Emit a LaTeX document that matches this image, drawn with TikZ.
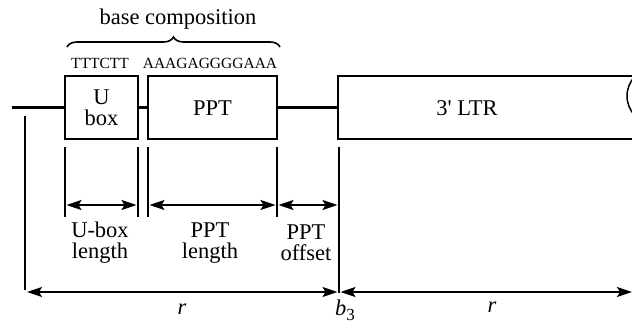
\documentclass[tikz,border=0pt]{standalone}
\usepackage{fontspec}
\setmainfont{Liberation Serif}[Ligatures=TeXOff]
\usetikzlibrary{arrows.meta,decorations.pathreplacing}
\begin{document}
\begin{tikzpicture}[x=1pt,y=-1pt,
  seqbox/.style={draw, line width=1.5pt, inner sep=0pt, minimum height=63pt},
  strand/.style={line width=3pt},
  tick/.style={line width=1.1pt},
  dim/.style={line width=1.8pt, {Stealth[length=15pt,width=10pt,inset=3pt]}-{Stealth[length=15pt,width=10pt,inset=3pt]}},
  lbl/.style={font=\fontsize{22.5}{21}\selectfont, align=center, inner sep=0pt},
  seq/.style={font=\fontsize{15.5}{16}\selectfont, inner sep=0pt}]
\useasboundingbox (0,0) rectangle (632,327);
\clip (0,0) rectangle (632,327);
% boxes
\node[seqbox, minimum width=73pt] (ubox) at (101.5,107.5) {};
\node[lbl] (uboxlabel) at (101.5,107.5) {U\\box};
\node[seqbox, minimum width=129pt] (ppt) at (212.5,107.5) {};
\node[lbl] (pptlabel) at (212.5,108) {PPT};
\node[seqbox, minimum width=320pt] (ltr) at (498,107.5) {};
\node[lbl] (ltrlabel) at (467,108) {3' LTR};
\draw[line width=1.5pt] (655,96) circle (28);
% strand
\coordinate (s0) at (12,107.5);
\draw[strand] (s0) -- (ubox.west);
\draw[strand] (ubox.east) -- (ppt.west);
\draw[strand] (ppt.east) -- (ltr.west);
% sequences and brace
\node[seq] (useq) at (100,63) {TTTCTT};
\node[seq] (pseq) at (210,63) {AAAGAGGGGAAA};
\coordinate (br1) at (67,47);
\coordinate (br2) at (280,47);
\draw[line width=1.6pt, decorate, decoration={brace, amplitude=10pt}] (br1) -- (br2);
\node[lbl] (basecomp) at (178,19) {base composition};
% ticks
\coordinate (t1a) at (65,147);  \coordinate (t1b) at (65,217);
\coordinate (t2a) at (138,147); \coordinate (t2b) at (138,217);
\coordinate (t3a) at (148,147); \coordinate (t3b) at (148,217);
\coordinate (t4a) at (277,147); \coordinate (t4b) at (277,217);
\coordinate (t5a) at (339,147); \coordinate (t5b) at (339,293);
\coordinate (t0a) at (25,116);  \coordinate (t0b) at (25,290);
\foreach \a/\b in {t1a/t1b,t2a/t2b,t3a/t3b,t4a/t4b,t5a/t5b,t0a/t0b}
  \draw[tick] (\a) -- (\b);
% dimension arrows
\coordinate (d1a) at (66.5,205);  \coordinate (d1b) at (136.5,205);
\coordinate (d2a) at (149.5,205); \coordinate (d2b) at (275.5,205);
\coordinate (d3a) at (278.5,205); \coordinate (d3b) at (337.5,205);
\draw[dim] (d1a) -- (d1b);
\draw[dim] (d2a) -- (d2b);
\draw[dim] (d3a) -- (d3b);
\node[lbl] (ublen) at (100,243) {U-box\\length};
\node[lbl] (pptlen) at (210,243) {PPT\\length};
\node[lbl] (pptoff) at (306,243) {PPT\\offset};
% bottom arrows
\coordinate (b1a) at (27,292);  \coordinate (b1b) at (337.5,292);
\coordinate (b2a) at (340.5,292); \coordinate (b2b) at (632,292);
\draw[dim] (b1a) -- (b1b);
\draw[dim] (b2a) -- (b2b);
\node[lbl] (r1) at (182,309) {\textit{r}};
\node[lbl] (r2) at (492,307) {\textit{r}};
\node[lbl, anchor=west] (b3) at (335,310) {\textit{b}\raisebox{-0.45ex}{\fontsize{17}{17}\selectfont 3}};
\end{tikzpicture}
\end{document}
